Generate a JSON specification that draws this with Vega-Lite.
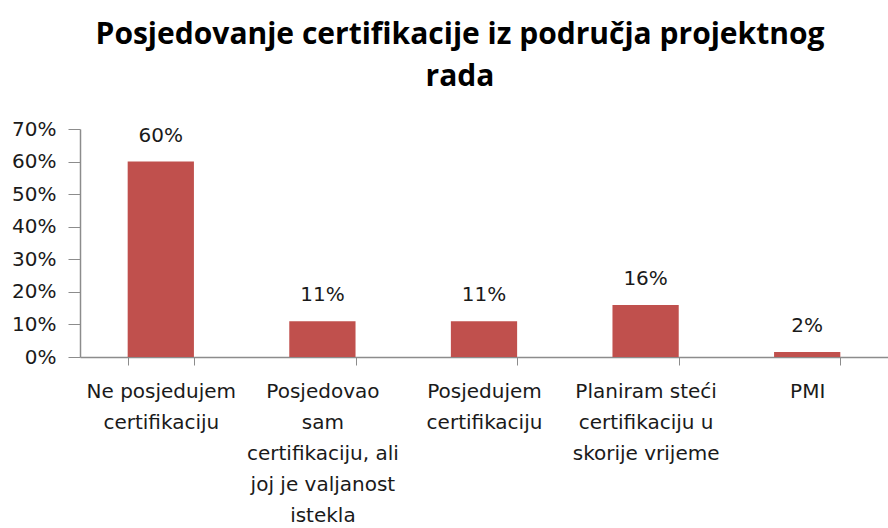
{
  "$schema": "https://vega.github.io/schema/vega-lite/v6.json",
  "autosize": "none",
  "width": 808,
  "height": 228,
  "padding": {"left": 80, "top": 129, "right": 0, "bottom": 171},
  "background": "white",
  "title": {
    "text": ["Posjedovanje certifikacije iz područja projektnog", "rada"],
    "font": "Open Sans",
    "fontSize": 30,
    "fontWeight": "bold",
    "color": "#000000",
    "anchor": "middle",
    "dx": -24,
    "lineHeight": 42,
    "offset": 27
  },
  "config": {"view": {"stroke": null}},
  "data": {
    "values": [
      {"kategorija": "Ne posjedujem\ncertifikaciju", "udio": 0.60},
      {"kategorija": "Posjedovao\nsam\ncertifikaciju, ali\njoj je valjanost\nistekla", "udio": 0.11},
      {"kategorija": "Posjedujem\ncertifikaciju", "udio": 0.11},
      {"kategorija": "Planiram steći\ncertifikaciju u\nskorije vrijeme", "udio": 0.16},
      {"kategorija": "PMI", "udio": 0.0155}
    ]
  },
  "encoding": {
    "x": {
      "field": "kategorija",
      "type": "nominal",
      "sort": null,
      "scale": {"paddingInner": 0.59, "paddingOuter": 0.295},
      "axis": {
        "title": null,
        "labelAngle": 0,
        "labelExpr": "split(datum.label, '\\n')",
        "labelFont": "DejaVu Sans",
        "labelFontSize": 20,
        "labelColor": "#1a1a1a",
        "labelLineHeight": 31,
        "labelPadding": 16,
        "labelLimit": 220,
        "labelBaseline": "top",
        "tickBand": "extent",
        "tickSize": 8,
        "tickColor": "#8c8c8c",
        "domainColor": "#8c8c8c",
        "domainWidth": 1.5,
        "grid": false
      }
    },
    "y": {
      "field": "udio",
      "type": "quantitative",
      "scale": {"domain": [0, 0.7], "nice": false},
      "axis": {
        "title": null,
        "format": ".0%",
        "values": [0, 0.1, 0.2, 0.3, 0.4, 0.5, 0.6, 0.7],
        "labelFont": "DejaVu Sans",
        "labelFontSize": 20,
        "labelColor": "#1a1a1a",
        "labelPadding": 12,
        "tickSize": 12,
        "tickColor": "#8c8c8c",
        "domainColor": "#8c8c8c",
        "domainWidth": 1.5,
        "grid": false
      }
    }
  },
  "layer": [
    {"mark": {"type": "bar", "color": "#C0504D"}},
    {
      "mark": {"type": "text", "baseline": "alphabetic", "dy": -20, "font": "DejaVu Sans", "fontSize": 20, "color": "#1a1a1a"},
      "encoding": {"text": {"field": "udio", "type": "quantitative", "format": ".0%"}}
    }
  ]
}
